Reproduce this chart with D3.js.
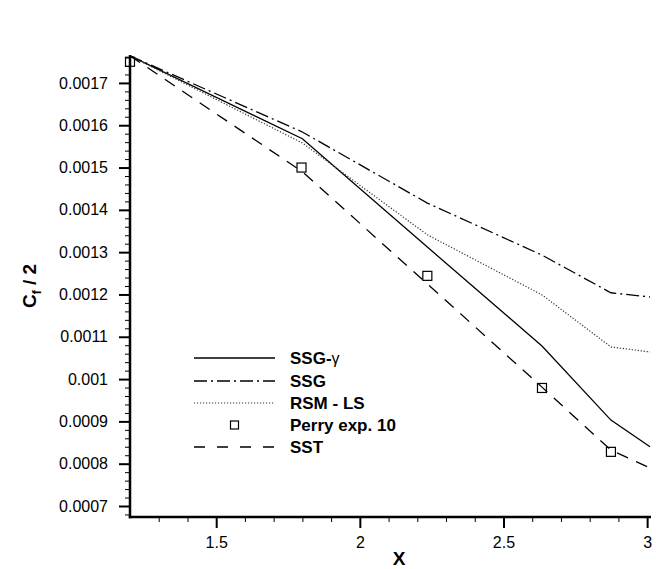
<!DOCTYPE html>
<html>
<head>
<meta charset="utf-8">
<script src="https://cdn.jsdelivr.net/npm/d3@7"></script>
<style>
  html, body { margin: 0; padding: 0; background: #fff; }
  svg { display: block; }
  text { font-family: "Liberation Sans", Arial, Helvetica, sans-serif; }
</style>
</head>
<body>
<svg id="chart" width="656" height="569"></svg>
<script>
// ---- data ----
const xTicks = [1.5, 2, 2.5, 3];
const yTicks = [0.0007, 0.0008, 0.0009, 0.001, 0.0011, 0.0012, 0.0013, 0.0014, 0.0015, 0.0016, 0.0017];
const yTickLabels = ["0.0007", "0.0008", "0.0009", "0.001", "0.0011", "0.0012", "0.0013", "0.0014", "0.0015", "0.0016", "0.0017"];

const ssgGammaX = [1.2, 1.8, 2.235, 2.634, 2.874, 3.01];
const ssgGammaY = [0.001764, 0.001568, 0.001312, 0.001078, 0.000903, 0.00084];

const ssgX = [1.2, 1.8, 2.235, 2.634, 2.874, 3.01];
const ssgY = [0.001764, 0.001584, 0.001416, 0.001293, 0.001204, 0.001194];

const rsmX = [1.2, 1.8, 2.235, 2.634, 2.874, 3.01];
const rsmY = [0.001764, 0.001558, 0.001341, 0.001199, 0.001076, 0.001064];

const sstX = [1.2, 1.8, 2.235, 2.634, 2.874, 3.01];
const sstY = [0.001764, 0.00149, 0.001225, 0.000981, 0.000832, 0.00079];

const perryX = [1.2, 1.797, 2.235, 2.634, 2.874];
const perryY = [0.00175, 0.0015, 0.001244, 0.000979, 0.000828];

const legendLabels = ["SSG-", "SSG", "RSM - LS", "Perry exp. 10", "SST"];

// ---- layout ----
const svg = d3.select("#chart");
const x = d3.scaleLinear().domain([1.2, 3.01]).range([130, 650]);
const y = d3.scaleLinear().domain([0.000674, 0.001766]).range([517, 55]);

svg.append("defs").append("clipPath").attr("id", "clip")
  .append("rect").attr("x", 130).attr("y", 50).attr("width", 526).attr("height", 467);

// minor ticks
const xMinor = d3.range(1.3, 3.001, 0.1).map(v => +v.toFixed(2)).filter(v => !xTicks.includes(v));
const yMinor = d3.range(0.00068, 0.001766, 0.00002).map(v => +v.toFixed(5)).filter(v => !yTicks.some(t => Math.abs(t - v) < 1e-9));

const gx = svg.append("g").attr("transform", "translate(0,517)");
gx.call(d3.axisBottom(x).tickValues(xMinor).tickSize(5).tickSizeOuter(0).tickFormat(""));
gx.call(g => g.select(".domain").remove());
const gx2 = svg.append("g").attr("transform", "translate(0,517)");
gx2.call(d3.axisBottom(x).tickValues(xTicks).tickSize(11).tickSizeOuter(0).tickPadding(9).tickFormat(d3.format("")));
gx2.select(".domain").attr("stroke-width", 2.5).attr("d", "M128.8,0H651");
gx2.selectAll(".tick line").attr("stroke-width", 2);
gx2.selectAll(".tick text").attr("font-size", 16).attr("fill", "#000");

const gy = svg.append("g").attr("transform", "translate(130,0)");
gy.call(d3.axisLeft(y).tickValues(yMinor).tickSize(5).tickSizeOuter(0).tickFormat(""));
gy.call(g => g.select(".domain").remove());
const gy2 = svg.append("g").attr("transform", "translate(130,0)");
gy2.call(d3.axisLeft(y).tickValues(yTicks).tickSize(11).tickSizeOuter(0).tickPadding(11)
  .tickFormat((d, i) => yTickLabels[i]));
gy2.select(".domain").attr("stroke-width", 2.5).attr("d", "M0,518.2V55");
gy2.selectAll(".tick line").attr("stroke-width", 2);
gy2.selectAll(".tick text").attr("font-size", 16).attr("fill", "#000");
svg.selectAll(".tick line").attr("stroke", "#000");

// axis titles
svg.append("text").attr("x", 399).attr("y", 565).attr("text-anchor", "middle")
  .attr("font-size", 19).attr("font-weight", "bold").text("X");
const yl = svg.append("text").attr("transform", "translate(36,286) rotate(-90)")
  .attr("text-anchor", "middle").attr("font-size", 19).attr("font-weight", "bold");
yl.append("tspan").text("C");
yl.append("tspan").attr("font-size", 12).attr("dy", 5).text("f");
yl.append("tspan").attr("dy", -5).text(" / 2");

// lines
const line = d3.line().x(d => x(d[0])).y(d => y(d[1]));
const zip = (a, b) => a.map((v, i) => [v, b[i]]);
const series = [
  { data: zip(ssgGammaX, ssgGammaY), dash: null, w: 1.3, c: "#000" },
  { data: zip(ssgX, ssgY), dash: "13,4,2,4", w: 1.3, c: "#000" },
  { data: zip(rsmX, rsmY), dash: "1.2,1.8", w: 1.2, c: "#333" },
  { data: zip(sstX, sstY), dash: "12,9", w: 1.3, c: "#000" }
];
const plot = svg.append("g").attr("clip-path", "url(#clip)");
series.forEach(s => {
  plot.append("path").attr("d", line(s.data)).attr("fill", "none")
    .attr("stroke", s.c).attr("stroke-width", s.w)
    .attr("stroke-dasharray", s.dash);
});
svg.append("g").selectAll("rect").data(zip(perryX, perryY)).join("rect")
  .attr("x", d => x(d[0]) - 4.5).attr("y", d => y(d[1]) - 4.5)
  .attr("width", 9).attr("height", 9)
  .attr("fill", "none").attr("stroke", "#000").attr("stroke-width", 1.2);

// legend
const lg = svg.append("g");
const rows = [358, 381, 403, 425, 447];
const styles = [
  { dash: null, c: "#000", w: 1.3 },
  { dash: "13,4,2,4", c: "#000", w: 1.3 },
  { dash: "1.2,1.8", c: "#333", w: 1.2 },
  { marker: true },
  { dash: "11,12", c: "#000", w: 1.3 }
];
legendLabels.forEach((lab, i) => {
  const st = styles[i];
  const yy = rows[i];
  if (st.marker) {
    lg.append("rect").attr("x", 230.5).attr("y", yy - 4).attr("width", 8).attr("height", 8)
      .attr("fill", "none").attr("stroke", "#000").attr("stroke-width", 1.2);
  } else {
    lg.append("line").attr("x1", 194).attr("x2", 275).attr("y1", yy).attr("y2", yy)
      .attr("stroke", st.c).attr("stroke-width", st.w).attr("stroke-dasharray", st.dash);
  }
  const t = lg.append("text").attr("x", 290).attr("y", yy + 6)
    .attr("font-size", 17).attr("font-weight", "bold").text(lab);
  if (i === 0) t.append("tspan").attr("font-weight", "normal").attr("font-size", 16).text("γ");
});
</script>
</body>
</html>
